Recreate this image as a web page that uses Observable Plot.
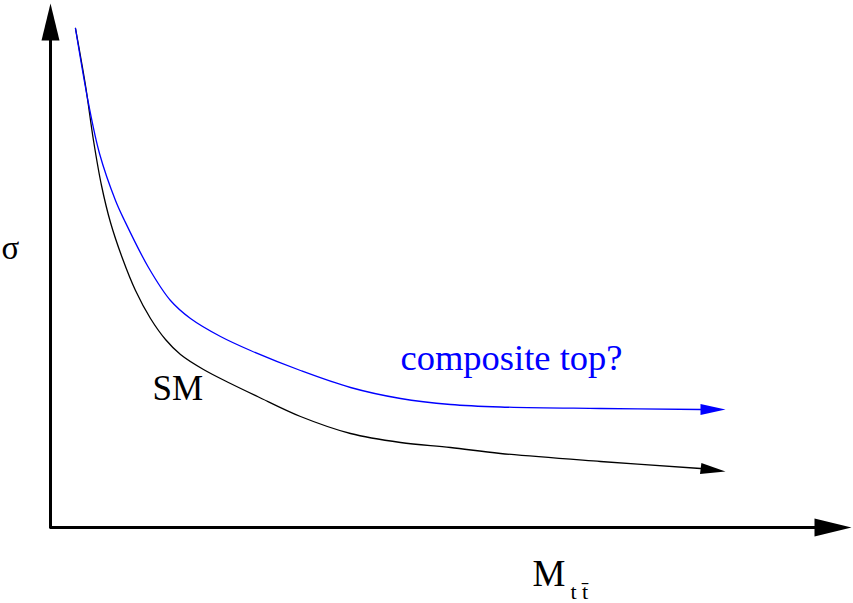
<!DOCTYPE html>
<html>
<head>
<meta charset="utf-8">
<script src="https://cdn.jsdelivr.net/npm/d3@7"></script>
<script src="https://cdn.jsdelivr.net/npm/@observablehq/plot@0.6"></script>
<style>
  html, body { margin: 0; padding: 0; background: #fff; }
  #chart svg { display: block; }
  #chart svg text, #chart svg tspan { font-family: "Liberation Serif", "Times New Roman", Times, "DejaVu Serif", serif !important; }
</style>
</head>
<body>
<div id="chart"></div>
<script>
// Arbitrary units
const massSM   = [25, 35, 43, 51, 60, 72, 85, 100, 115, 130, 153, 180, 207, 250, 300, 350, 400, 450, 550, 650, 660];
const sigmaSM  = [499, 442, 387, 342, 305, 269, 237, 209, 188, 173, 158, 144, 131, 111, 94, 85, 80, 74, 66, 59, 58];
const massComp  = [25, 38, 49, 65, 74, 98, 120, 140, 170, 200, 250, 300, 350, 400, 450, 550, 650, 660];
const sigmaComp = [499, 424, 374, 327, 307, 260, 227, 209, 191, 177, 157, 140, 129, 123, 120.5, 119, 118, 118];
const labelSM = "SM";
const labelComp = "composite top?";
const yLabel = "σ";
const xLabel = "M";
const xLabelSub = "t t\u0304";

const sm = massSM.map((m, i) => ({m, s: sigmaSM[i]}));
const comp = massComp.map((m, i) => ({m, s: sigmaComp[i]}));

const arrowBig = {draw(ctx) { ctx.moveTo(0, 0); ctx.lineTo(-37, -9); ctx.lineTo(-37, 9); ctx.closePath(); }};
const arrowSmall = {draw(ctx) { ctx.moveTo(0, 0); ctx.lineTo(-25, -5.5); ctx.lineTo(-25, 5.5); ctx.closePath(); }};

const font = "'Liberation Serif', 'Times New Roman', serif";

const chart = Plot.plot({
  width: 853,
  height: 603,
  marginLeft: 50,
  marginRight: 0,
  marginTop: 0,
  marginBottom: 76,
  x: {domain: [0, 803], axis: null},
  y: {domain: [0, 527], axis: null},
  style: {background: "#fff", fontFamily: font},
  marks: [
    // axes
    Plot.ruleY([0], {x1: 0, x2: 780, stroke: "black", strokeWidth: 3}),
    Plot.ruleX([0], {y1: -1.5, y2: 500, stroke: "black", strokeWidth: 3}),
    Plot.dot([{x: 801, y: 0}], {x: "x", y: "y", symbol: arrowBig, r: 5, fill: "black", stroke: "none"}),
    Plot.dot([{x: 0, y: 524}], {x: "x", y: "y", symbol: arrowBig, r: 5, fill: "black", stroke: "none", rotate: -90}),
    // curves
    Plot.line(sm, {x: "m", y: "s", stroke: "black", strokeWidth: 1.3, curve: "catmull-rom"}),
    Plot.line(comp, {x: "m", y: "s", stroke: "#0000ff", strokeWidth: 1.3, curve: "catmull-rom"}),
    Plot.dot([{x: 675, y: 56}], {x: "x", y: "y", symbol: arrowSmall, r: 5, fill: "black", stroke: "none", rotate: 7}),
    Plot.dot([{x: 675, y: 118}], {x: "x", y: "y", symbol: arrowSmall, r: 5, fill: "#0000ff", stroke: "none"}),
    // labels
    Plot.text([labelSM], {x: 102, y: 128, text: d => d, textAnchor: "start", lineAnchor: "bottom", fontSize: 35, fontFamily: font, fill: "black"}),
    Plot.text([labelComp], {x: 350, y: 158, text: d => d, textAnchor: "start", lineAnchor: "bottom", fontSize: 36.5, fontFamily: font, fill: "#0000ff"}),
    Plot.text([yLabel], {x: -49, y: 269, text: d => d, textAnchor: "start", lineAnchor: "bottom", fontSize: 33, fontFamily: font, fill: "black"}),
    Plot.text([xLabel], {x: 482, y: -58, text: d => d, textAnchor: "start", lineAnchor: "bottom", fontSize: 37, fontFamily: font, fill: "black"}),
    Plot.text([xLabelSub], {x: 520, y: -71, text: d => d, textAnchor: "start", lineAnchor: "bottom", fontSize: 22, fontFamily: font, fill: "black"})
  ]
});
document.getElementById("chart").appendChild(chart);
</script>
</body>
</html>
